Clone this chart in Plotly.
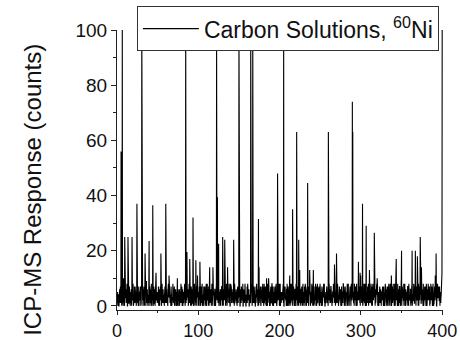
import numpy as np
import plotly.graph_objects as go

# Baseline counts (one hex digit per sample).
# Set A: samples at 0, 0.5, 1.0 ... 400 s
baseline_a = [
    "3102403162514320a241536124053172431605241327150342",
    "2613052471634205136420715324163052714320561437c251",
    "41725036142853102471536240381524176032541736204152",
    "136205741326051437281503642173504621380542163074b5",
    "52041637250314627053148260375142057316420631572046",
    "30416253708142635017425361840527134620751436205713",
    "6420137524061358204173625041362805417326041537206d",
    "15370426135082471365024731506248137052641730251468",
    "2704153628107354261037415208362417530261475032641a",
    "40632517043628150374261538041726350147263058142730",
    "13527041638205147362058413726015463270518364201735",
    "624051387142603571482036517420631584270361520473c1",
    "37150426318057241630754128360472513064281735064125",
    "05263174028536140726358104271536082471350624173058",
    "4173620584136207518342601753428615037426108357241e",
    "26401537260841357206148735026417358204163752041368",
    "2",
]
# Set B: samples at 0.25, 0.75 ... 399.75 s
baseline_b = [
    "2514036271405132620473158024617305214638021574306c",
    "14072536018426357041829361045273618042537160248315",
    "530614728053162407359142068357120463581720436150a4",
    "02463158270514368031527460281534706125348061527340",
    "4172603518240736152804631702546318207453610285371b",
    "13540627381056243718026543170826453127085364102754",
    "5203614728035164207318546023175408263157042836150e",
    "24613075820413657042816350247138605241736801452370",
    "0815342671053724068135027461384052713604825137046d",
    "36127048531702643518207463152870462135807241563028",
    "51406237841025736140825361704253861470325186043572",
    "0273518460372514806231574082635140726318053742610b",
    "43610528731640257380164253071846302517846035217463",
    "1527403618250471638025146073582416037251840637215a",
    "06352817406235174028361547032861574026381507243615",
    "3418026573140628357014627358014726350183462705148c",
]

# Spike events (time, counts)
peak_x = [5.0, 6.5, 9.5, 13.5, 18.5, 24.5, 30.5, 34.5, 39.5, 44.0, 54.0, 60.0, 64.0,
          73.5, 84.5, 86.0, 89.5, 93.5, 97.0, 102.0, 114.0, 118.0, 122.5, 123.5,
          125.0, 130.0, 132.5, 136.0, 143.5, 150.0, 150.5, 164.5, 165.0, 167.0,
          174.0, 184.0, 186.5, 197.5, 198.0, 205.0, 212.5, 216.0, 221.0, 223.5,
          234.5, 237.0, 241.5, 260.0, 267.5, 270.0, 289.5, 290.0, 297.0, 302.0,
          306.5, 310.5, 316.5, 320.0, 337.5, 343.5, 350.0, 363.0, 367.0, 369.5,
          373.0, 391.5, 392.5, 400.0]
peak_y = [56, 100, 25, 25, 25, 37, 100, 19, 23.5, 36.5, 19, 37, 11,
          10, 100, 19.5, 17, 32, 16.5, 16, 14, 14, 94, 39.5,
          22.5, 25, 24, 14, 24, 100, 54, 100, 14, 100,
          31.5, 10, 10, 48, 18.5, 100, 11, 35, 63, 24,
          44.5, 13, 13, 63, 15, 19, 74, 63, 16, 37,
          29, 13, 26.5, 10, 11, 17, 20, 20, 20, 18,
          25, 11, 19, 100]

x_ticks = [0, 100, 200, 300, 400]
y_ticks = [0, 20, 40, 60, 80, 100]

a = "".join(baseline_a)
b = "".join(baseline_b)
seq = []
for i, ch in enumerate(a):
    seq.append(ch)
    if i < len(b):
        seq.append(b[i])
counts = np.array([float(int(c, 16)) for c in seq])
n = len(counts)
t = np.linspace(0, 400, n)
step = t[1] - t[0]
for px, py in zip(peak_x, peak_y):
    i = int(round(px / step))
    i = min(max(i, 0), n - 1)
    counts[i] = py

font = "Liberation Sans, Arial, sans-serif"

fig = go.Figure()
fig.add_trace(go.Scatter(
    x=t, y=counts, mode="lines",
    line=dict(color="black", width=1.1),
    name="Carbon Solutions, <sup>60</sup>Ni",
    showlegend=True,
))

fig.update_layout(
    width=460, height=340,
    margin=dict(l=117, r=17, t=30, b=30, autoexpand=False),
    paper_bgcolor="white", plot_bgcolor="white",
    font=dict(family=font, color="#111", size=20),
    showlegend=True,
    legend=dict(
        x=0.061, y=1.085, xanchor="left", yanchor="top",
        bgcolor="white", bordercolor="#333", borderwidth=1,
        font=dict(size=23, family=font, color="#111"),
        itemwidth=56, tracegroupgap=0,
    ),
    xaxis=dict(
        range=[0, 401], tickvals=x_ticks, ticktext=[str(v) for v in x_ticks],
        showgrid=False, zeroline=False, showline=True, linecolor="#222", linewidth=1,
        ticks="outside", ticklen=4, tickcolor="#222",
        minor=dict(dtick=50, ticks="outside", ticklen=2, tickcolor="#222"),
        tickfont=dict(size=18), ticklabelstandoff=0,
    ),
    yaxis=dict(
        range=[-1.5, 100], tickvals=y_ticks, ticktext=[str(v) for v in y_ticks],
        showgrid=False, zeroline=False, showline=True, linecolor="#222", linewidth=1,
        ticks="outside", ticklen=5, tickcolor="#222",
        minor=dict(dtick=10, ticks="outside", ticklen=3, tickcolor="#222"),
        tickfont=dict(size=19),
    ),
    annotations=[dict(
        text="ICP-MS Response (counts)", textangle=-90,
        xref="paper", yref="paper", x=-0.26, y=0.43,
        xanchor="center", yanchor="middle", showarrow=False,
        font=dict(size=24, family=font, color="#111"),
    )],
)

fig.write_html("out.html")
